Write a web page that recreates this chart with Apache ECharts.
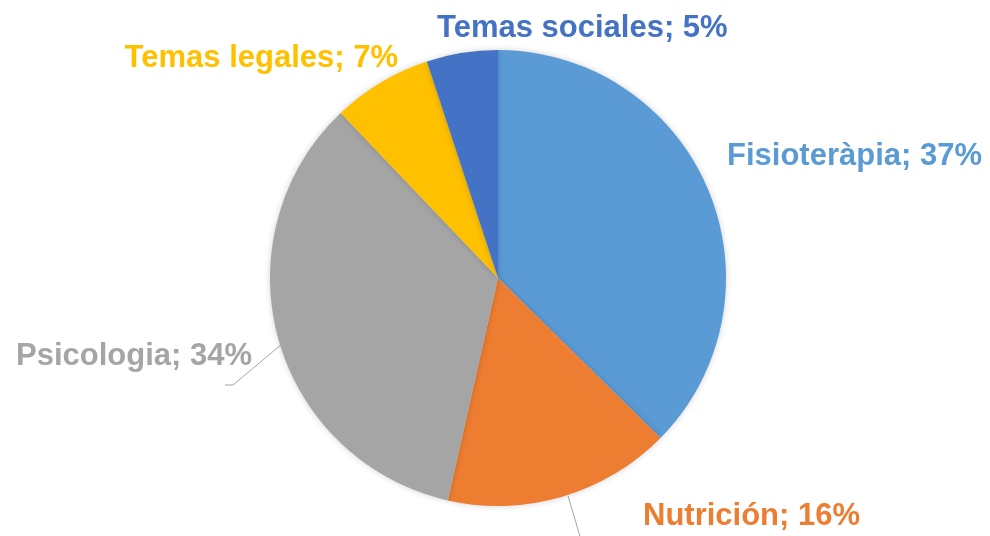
<!DOCTYPE html>
<html>
<head>
<meta charset="utf-8">
<script src="https://cdn.jsdelivr.net/npm/echarts@6/dist/echarts.min.js"></script>
<style>
  html, body { margin: 0; padding: 0; background: #fff; }
  #pieChart { width: 990px; height: 536px; }
</style>
</head>
<body>
<div id="pieChart"></div>
<script>
// categorias y porcentajes
const categories = ["Fisioteràpia", "Nutrición", "Psicologia", "Temas legales", "Temas sociales"];
const values = [37, 16, 34, 7, 5];
const colors = ["#5B9BD5", "#ED7D31", "#A5A5A5", "#FFC000", "#4472C4"];

// posicion de cada etiqueta (x, y, alineacion) y linea guia
const labelSpots = [
  { x: 727, y: 156, align: "left" },
  { x: 643, y: 516, align: "left", line: [[568, 496], [574, 516], [581, 540]] },
  { x: 252, y: 356, align: "right", line: [[282, 344], [233, 385], [225, 385]] },
  { x: 398, y: 58, align: "right" },
  { x: 437, y: 28, align: "left" },
];

const chart = echarts.init(document.getElementById("pieChart"));

const option = {
  animation: false,
  series: [
    {
      type: "pie",
      center: [498, 278],
      radius: 228,
      startAngle: 90,
      clockwise: true,
      data: categories.map((name, i) => ({
        name: name,
        value: values[i],
        itemStyle: { color: colors[i] },
        label: { color: colors[i] },
        labelLine: { show: !!labelSpots[i].line },
      })),
      itemStyle: {
        borderWidth: 0,
        shadowBlur: 6,
        shadowColor: "rgba(0,0,0,0.18)",
      },
      label: {
        show: true,
        formatter: "{b}; {c}%",
        fontFamily: "Liberation Sans",
        fontWeight: "bold",
        fontSize: 31,
        overflow: "none",
        width: null,
      },
      labelLine: {
        lineStyle: { color: "#A5A5A5", width: 1 },
      },
      labelLayout: function (params) {
        const s = labelSpots[params.dataIndex];
        const out = {
          x: s.x,
          y: s.y,
          align: s.align,
          verticalAlign: "middle",
          width: 400,
        };
        if (s.line) out.labelLinePoints = s.line;
        return out;
      },
    },
  ],
};

chart.setOption(option);
</script>
</body>
</html>
